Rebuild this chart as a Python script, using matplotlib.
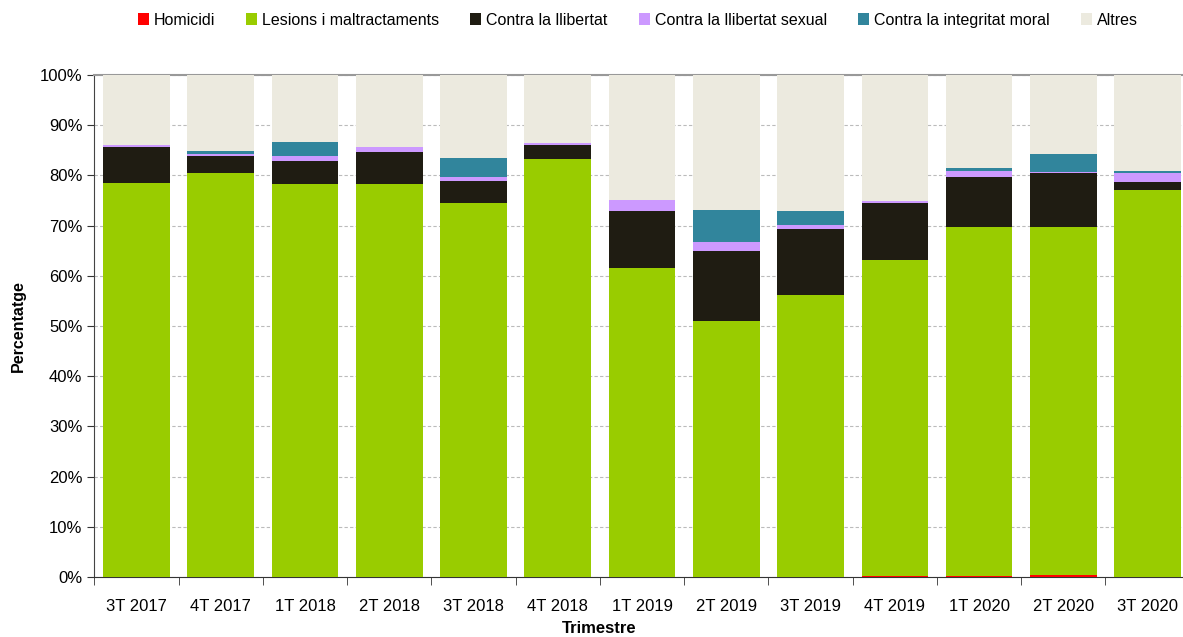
import numpy as np
import matplotlib
matplotlib.use("Agg")
import matplotlib.pyplot as plt

plt.rcParams['font.family'] = ['Liberation Sans', 'DejaVu Sans']

# quarters and share of each crime type (%)
trimestres = ["3T 2017", "4T 2017", "1T 2018", "2T 2018", "3T 2018", "4T 2018", "1T 2019",
              "2T 2019", "3T 2019", "4T 2019", "1T 2020", "2T 2020", "3T 2020"]
homicidi = [0, 0, 0, 0, 0, 0, 0, 0, 0, 0.2, 0.2, 0.4, 0]
lesions = [78.5, 80.4, 78.2, 78.3, 74.6, 83.3, 61.5, 50.9, 56.1, 62.9, 69.6, 69.4, 77.0]
llibertat = [7.1, 3.5, 4.7, 6.4, 4.3, 2.8, 11.5, 14.0, 13.3, 11.4, 9.9, 10.7, 1.7]
sexual = [0.4, 0.3, 1.0, 1.0, 0.8, 0.4, 2.1, 1.8, 0.7, 0.4, 1.2, 0.2, 1.8]
moral = [0, 0.7, 2.8, 0, 3.7, 0, 0, 6.5, 2.9, 0, 0.6, 3.6, 0.4]
altres = [14.0, 15.1, 13.3, 14.3, 16.6, 13.5, 24.9, 26.8, 27.0, 25.1, 18.5, 15.7, 19.1]

series = [("Homicidi", homicidi, "#FF0000"),
          ("Lesions i maltractaments", lesions, "#99CC00"),
          ("Contra la llibertat", llibertat, "#1F1C12"),
          ("Contra la llibertat sexual", sexual, "#CC99FF"),
          ("Contra la integritat moral", moral, "#31859C"),
          ("Altres", altres, "#ECEADF")]

fig = plt.figure(figsize=(11.83, 6.37), dpi=100)
ax = fig.add_axes([0.0797, 0.0942, 0.926, 0.788])

x = np.arange(len(trimestres))
bottom = np.zeros(len(trimestres))
for name, vals, col in series:
    vals = np.array(vals)
    ax.bar(x, vals, bottom=bottom, width=0.79, color=col, label=name,
           edgecolor="none", zorder=3)
    bottom += vals

ax.set_xlim(-0.5, len(trimestres) - 0.5)
ax.set_ylim(0, 100)
ax.set_yticks(np.arange(0, 101, 10))
ax.set_yticklabels(["%d%%" % v for v in range(0, 101, 10)], fontsize=12)
ax.set_xticks(x)
ax.set_xticklabels(trimestres, fontsize=12)
ax.set_xticks(np.arange(-0.5, len(trimestres), 1), minor=True)
ax.tick_params(axis="x", which="major", length=0, pad=16)
ax.tick_params(axis="x", which="minor", length=6, color="#333333")
ax.tick_params(axis="y", length=5, color="#333333")

ax.yaxis.grid(True, color="#BBBBBB", linestyle=(0, (3, 2)), linewidth=0.8, zorder=0)
ax.spines["right"].set_visible(False)
ax.spines["top"].set_color("#999999")
ax.spines["top"].set_linewidth(1.5)
ax.spines["left"].set_color("#444444")
ax.spines["bottom"].set_color("#333333")

ax.set_ylabel("Percentatge", fontsize=11.5, fontweight="bold", labelpad=10)
ax.set_xlabel("Trimestre", fontsize=12, fontweight="bold")
ax.xaxis.set_label_coords(0.461, -0.088)

ax.legend(loc="upper center", bbox_to_anchor=(0.496, 1.153), ncol=6, frameon=False,
          fontsize=11.5, handlelength=0.7, handleheight=0.7, handletextpad=0.3,
          columnspacing=1.95)

fig.savefig("out.png", dpi=100)
